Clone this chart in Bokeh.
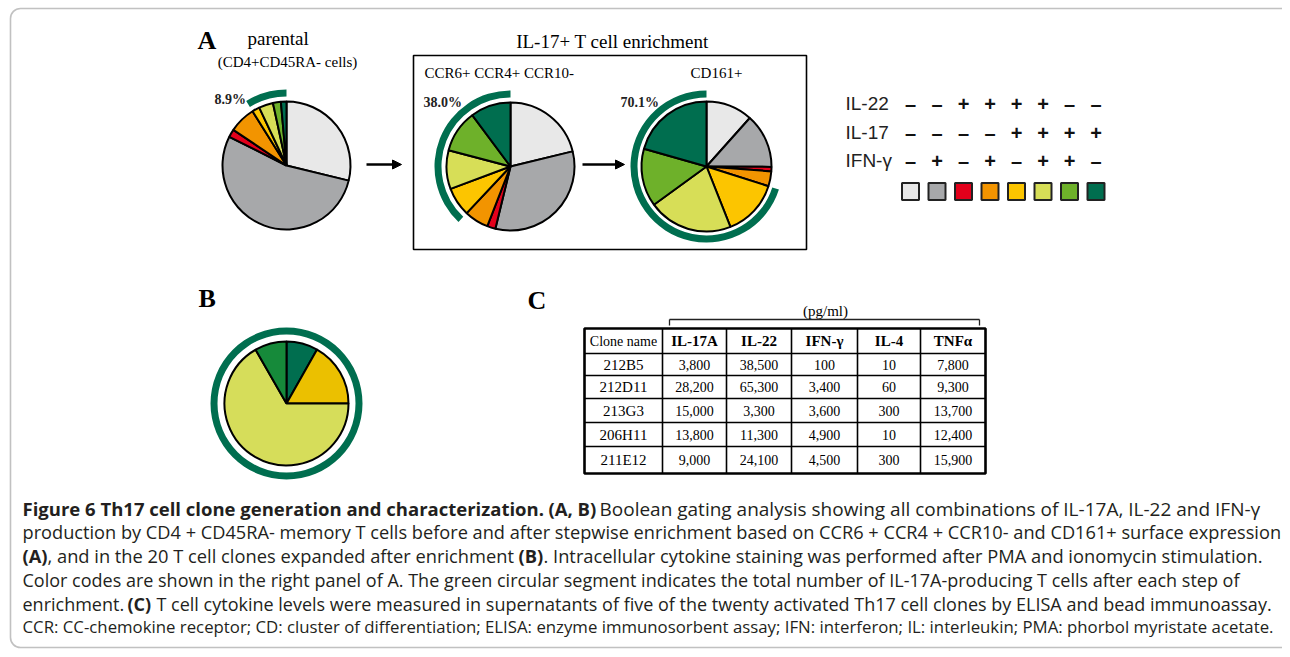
import numpy as np
from bokeh.plotting import figure
from bokeh.models import Range1d, BoxAnnotation, Arrow, NormalHead, ColumnDataSource
from bokeh.core.properties import value
from bokeh.embed import file_html
from bokeh.resources import INLINE

# ---------------- data ----------------
combo_colors = ["#e8e8e8", "#a7a8aa", "#e3001b", "#f29400", "#fcc500", "#d7de57", "#6eb12a", "#006e4f"]
legend_rows = ["IL-22", "IL-17", "IFN-γ"]
il22_signs = ["–", "–", "+", "+", "+", "+", "–", "–"]
il17_signs = ["–", "–", "–", "–", "+", "+", "+", "+"]
ifng_signs = ["–", "+", "–", "+", "–", "+", "+", "–"]

parental_pct = [28.8, 53.6, 2.0, 6.7, 1.9, 3.6, 2.0, 1.4]
ccr6_pct = [21.2, 32.6, 2.1, 6.1, 7.3, 9.8, 10.7, 10.2]
cd161_pct = [11.6, 13.5, 1.1, 3.7, 14.1, 21.0, 14.4, 20.6]
il17_total = [8.9, 38.0, 70.1]
il17_labels = ["8.9%", "38.0%", "70.1%"]

clone_pct = [8.2, 16.8, 66.7, 8.3]
clone_colors = ["#006e4f", "#ebc000", "#d6dd5a", "#168a3a"]

table_headers = ["Clone name", "IL-17A", "IL-22", "IFN-γ", "IL-4", "TNFα"]
clone_names = ["212B5", "212D11", "213G3", "206H11", "211E12"]
il17a_vals = ["3,800", "28,200", "15,000", "13,800", "9,000"]
il22_vals = ["38,500", "65,300", "3,300", "11,300", "24,100"]
ifng_vals = ["100", "3,400", "3,600", "4,900", "4,500"]
il4_vals = ["10", "60", "300", "10", "300"]
tnfa_vals = ["7,800", "9,300", "13,700", "12,400", "15,900"]

# ---------------- figure ----------------
W, H = 1282, 649
p = figure(width=W, height=H, x_range=Range1d(0, W), y_range=Range1d(0, H),
           output_backend="svg", toolbar_location=None, min_border=0)
p.axis.visible = False
p.grid.visible = False
p.outline_line_color = None
p.background_fill_color = "white"
p.border_fill_color = "white"


def Y(s):
    return H - s


SERIF = value("Liberation Serif")
SANS = value("Liberation Sans")
CAP = value("Open Sans")
DKGREEN = "#006e4f"

# outer rounded frame
p.add_layout(BoxAnnotation(left=10, right=1293, top=Y(8), bottom=Y(647), fill_alpha=0,
                           line_color="#333333", line_width=1.6, border_radius=10))


def draw_pie(cx, cy, r, pct, colors):
    cum = np.cumsum([0.0] + list(pct))
    src = ColumnDataSource(dict(
        x=[cx] * len(pct), y=[Y(cy)] * len(pct),
        s=list(np.deg2rad(90 - cum[1:] * 3.6)),
        e=list(np.deg2rad(90 - cum[:-1] * 3.6)),
        c=list(colors)))
    p.wedge(x="x", y="y", radius=r, start_angle="s", end_angle="e", fill_color="c",
            line_color="black", line_width=2, source=src)


def draw_arc(cx, cy, total):
    p.annular_wedge(x=cx, y=Y(cy), inner_radius=69, outer_radius=76,
                    start_angle=np.pi / 2, end_angle=np.pi / 2 + np.deg2rad(total * 3.6),
                    color=DKGREEN, line_color=None)


# Panel A pies
pie_centers = [(286, 165, 64), (510, 166, 64), (706, 166, 65)]
for (cx, cy, r), pct, tot in zip(pie_centers, [parental_pct, ccr6_pct, cd161_pct], il17_total):
    draw_arc(cx, cy, tot)
    draw_pie(cx, cy, r, pct, combo_colors)

# percentage labels
p.text(x=[214, 423, 620], y=[Y(99), Y(102), Y(102)], text=il17_labels, text_font=SERIF,
       text_font_style="bold", text_font_size="14px", text_baseline="middle", text_color="#222")

# Panel A titles
p.text(x=[197], y=[Y(40)], text=["A"], text_font=SERIF, text_font_style="bold",
       text_font_size="26px", text_baseline="middle")
p.text(x=[247], y=[Y(38)], text=["parental"], text_font=SERIF, text_font_size="19px",
       text_baseline="middle")
p.text(x=[287], y=[Y(61)], text=["(CD4+CD45RA- cells)"], text_font=SERIF, text_font_size="15px",
       text_baseline="middle", text_align="center")
p.text(x=[612], y=[Y(41)], text=["IL-17+ T cell enrichment"], text_font=SERIF,
       text_font_size="19px", text_baseline="middle", text_align="center")
p.quad(left=413, right=806, top=Y(55), bottom=Y(249), fill_color=None, line_color="black",
       line_width=1.6)
p.text(x=[424], y=[Y(72)], text=["CCR6+ CCR4+ CCR10-"], text_font=SERIF, text_font_size="15px",
       text_baseline="middle")
p.text(x=[716], y=[Y(72)], text=["CD161+"], text_font=SERIF, text_font_size="15px",
       text_baseline="middle", text_align="center")

# arrows
for xs, xe in [(366, 401), (582, 624)]:
    p.add_layout(Arrow(end=NormalHead(size=9, fill_color="black", line_color="black"),
                       x_start=xs, y_start=Y(164), x_end=xe, y_end=Y(164),
                       line_width=2.5, line_color="black"))

# legend
col_x = [910 + 26.5 * i for i in range(8)]
row_y = [103, 132, 160]
p.text(x=[845] * 3, y=[Y(v) for v in row_y], text=legend_rows, text_font=SANS,
       text_font_size="19px", text_baseline="middle", text_color="#222")
for ry, signs in zip(row_y, [il22_signs, il17_signs, ifng_signs]):
    p.text(x=col_x, y=[Y(ry)] * 8, text=signs, text_font=SANS, text_font_style="bold",
           text_font_size="20px", text_baseline="middle", text_align="center", text_color="#111")
p.rect(x=col_x, y=[Y(191)] * 8, width=17, height=17, fill_color=combo_colors,
       line_color="#222", line_width=2)

# Panel B
p.text(x=[198], y=[Y(298)], text=["B"], text_font=SERIF, text_font_style="bold",
       text_font_size="26px", text_baseline="middle")
p.annulus(x=286, y=Y(403), inner_radius=69, outer_radius=76, fill_color=DKGREEN, line_color=None)
draw_pie(286, 403, 62, clone_pct, clone_colors)

# Panel C
p.text(x=[527], y=[Y(300)], text=["C"], text_font=SERIF, text_font_style="bold",
       text_font_size="26px", text_baseline="middle")
p.text(x=[825], y=[Y(310)], text=["(pg/ml)"], text_font=SERIF, text_font_size="15px",
       text_baseline="middle", text_align="center")
p.segment(x0=[669, 669, 979], y0=[Y(319), Y(319), Y(319)], x1=[979, 669, 979],
          y1=[Y(319), Y(325), Y(325)], line_color="#222", line_width=1.3)

col_edges = [584, 662, 726, 791, 857, 920, 985]
row_edges = [328, 353, 375, 398, 422, 446, 473]
p.segment(x0=[584] * 5, x1=[985] * 5, y0=[Y(v) for v in row_edges[1:-1]],
          y1=[Y(v) for v in row_edges[1:-1]], line_color="black", line_width=1.6)
p.segment(x0=col_edges[1:-1], x1=col_edges[1:-1], y0=[Y(328)] * 5, y1=[Y(473)] * 5,
          line_color="black", line_width=1.6)
p.quad(left=584, right=985, top=Y(328), bottom=Y(473), fill_color=None, line_color="black",
       line_width=2.6)

col_cx = [(col_edges[i] + col_edges[i + 1]) / 2 for i in range(6)]
row_cy = [(row_edges[i] + row_edges[i + 1]) / 2 for i in range(6)]
p.text(x=[col_cx[0]], y=[Y(row_cy[0])], text=[table_headers[0]], text_font=SERIF,
       text_font_size="14px", text_baseline="middle", text_align="center")
p.text(x=col_cx[1:], y=[Y(row_cy[0])] * 5, text=table_headers[1:], text_font=SERIF,
       text_font_style="bold", text_font_size="15px", text_baseline="middle", text_align="center")
p.text(x=[col_cx[0]] * 5, y=[Y(v) for v in row_cy[1:]], text=clone_names, text_font=SERIF,
       text_font_size="15px", text_baseline="middle", text_align="center")
for ci, vals in enumerate([il17a_vals, il22_vals, ifng_vals, il4_vals, tnfa_vals]):
    p.text(x=[col_cx[ci + 1]] * 5, y=[Y(v) for v in row_cy[1:]], text=vals, text_font=SERIF,
           text_font_size="14px", text_baseline="middle", text_align="center")

# caption: (x, y, text, bold, size)
cap_y = [508, 531, 555, 579, 603, 626]
segments = [
    (22, cap_y[0], "Figure 6 Th17 cell clone generation and characterization.", True, 18.5),
    (548, cap_y[0], "(A, B)", True, 18.5),
    (599, cap_y[0], "Boolean gating analysis showing all combinations of IL-17A, IL-22 and IFN-γ", False, 19.0),
    (22, cap_y[1], "production by CD4 + CD45RA- memory T cells before and after stepwise enrichment based on CCR6 + CCR4 + CCR10- and CD161+ surface expression", False, 18.2),
    (22, cap_y[2], "(A)", True, 18.3),
    (47, cap_y[2], ", and in the 20 T cell clones expanded after enrichment", False, 18.3),
    (518, cap_y[2], "(B)", True, 18.3),
    (543, cap_y[2], ". Intracellular cytokine staining was performed after PMA and ionomycin stimulation.", False, 18.3),
    (22, cap_y[3], "Color codes are shown in the right panel of A. The green circular segment indicates the total number of IL-17A-producing T cells after each step of", False, 18.0),
    (22, cap_y[4], "enrichment.", False, 18.0),
    (127, cap_y[4], "(C)", True, 18.0),
    (156, cap_y[4], "T cell cytokine levels were measured in supernatants of five of the twenty activated Th17 cell clones by ELISA and bead immunoassay.", False, 18.0),
    (22, cap_y[5], "CCR: CC-chemokine receptor; CD: cluster of differentiation; ELISA: enzyme immunosorbent assay; IFN: interferon; IL: interleukin; PMA: phorbol myristate acetate.", False, 16.8),
]
for sx, sy, st, sb, ss in segments:
    p.text(x=[sx], y=[Y(sy)], text=[st], text_font=CAP,
           text_font_style="bold" if sb else "normal", text_font_size=f"{ss}px",
           text_baseline="middle", text_color="#231f20")

open("out.html", "w").write(file_html(p, INLINE))
